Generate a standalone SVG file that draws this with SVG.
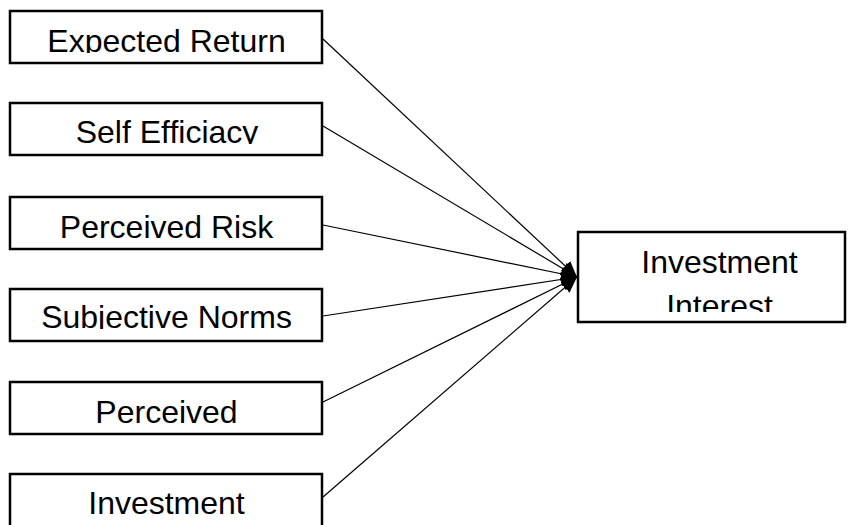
<svg xmlns="http://www.w3.org/2000/svg" width="848" height="525" viewBox="0 0 848 525">
<style>
.box{fill:#fff;stroke:#000;stroke-width:2.5}
.lbl{font-family:"Liberation Sans",Arial,sans-serif;font-size:32px;fill:#000;text-anchor:middle}
.edge{stroke:#000;stroke-width:1.2;fill:none;marker-end:url(#ah)}
</style>
<defs>
<marker id="ah" viewBox="0 0 16 14" refX="16" refY="7" markerWidth="16" markerHeight="14" markerUnits="userSpaceOnUse" orient="auto">
<path d="M0,0 L16,7 L0,14 z" fill="#000"/>
</marker>
<clipPath id="c1"><rect x="0" y="0" width="848" height="53"/></clipPath>
<clipPath id="c2"><rect x="0" y="0" width="848" height="144"/></clipPath>
<clipPath id="c3"><rect x="0" y="0" width="848" height="239"/></clipPath>
<clipPath id="c4"><rect x="0" y="0" width="848" height="329"/></clipPath>
<clipPath id="c5"><rect x="0" y="0" width="848" height="424"/></clipPath>
<clipPath id="c6"><rect x="0" y="0" width="848" height="515"/></clipPath>
<clipPath id="c7"><rect x="0" y="0" width="848" height="312"/></clipPath>
</defs>
<g id="connectors">
<line class="edge" x1="323" y1="39" x2="577" y2="277"/>
<line class="edge" x1="323" y1="126" x2="577" y2="277"/>
<line class="edge" x1="323" y1="225" x2="577" y2="277"/>
<line class="edge" x1="323" y1="316" x2="577" y2="277"/>
<line class="edge" x1="323" y1="402" x2="577" y2="277"/>
<line class="edge" x1="323" y1="497" x2="577" y2="277"/>
</g>
<g id="expected-return">
<rect class="box" x="10" y="11" width="312" height="52"/>
<text class="lbl" x="166.5" y="52" clip-path="url(#c1)">Expected Return</text>
</g>
<g id="self-efficacy">
<rect class="box" x="10" y="103" width="312" height="52"/>
<text class="lbl" x="167" y="143" clip-path="url(#c2)">Self Efficiacy</text>
</g>
<g id="perceived-risk">
<rect class="box" x="10" y="197" width="312" height="52"/>
<text class="lbl" x="166.5" y="238" clip-path="url(#c3)">Perceived Risk</text>
</g>
<g id="subjective-norms">
<rect class="box" x="10" y="289" width="312" height="52"/>
<text class="lbl" x="166.5" y="328" clip-path="url(#c4)">Subjective Norms</text>
</g>
<g id="perceived">
<rect class="box" x="10" y="382" width="312" height="52"/>
<text class="lbl" x="166.5" y="423" clip-path="url(#c5)">Perceived</text>
</g>
<g id="investment">
<rect class="box" x="10" y="474" width="312" height="60"/>
<text class="lbl" x="166.5" y="514" clip-path="url(#c6)">Investment</text>
</g>
<g id="investment-interest">
<rect class="box" x="578" y="232" width="267" height="90"/>
<text class="lbl" x="719.5" y="273">Investment</text>
<text class="lbl" x="719.5" y="317" clip-path="url(#c7)">Interest</text>
</g>
</svg>
